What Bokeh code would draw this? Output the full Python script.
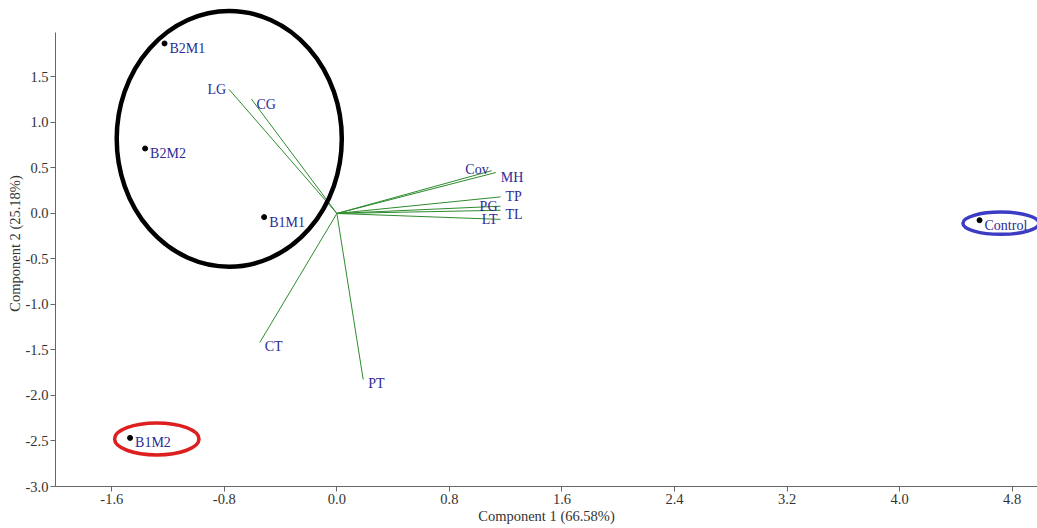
from bokeh.plotting import figure
from bokeh.models import ColumnDataSource, FixedTicker, Range1d
from bokeh.core.properties import value
from bokeh.embed import file_html
from bokeh.resources import INLINE

# ---- data ----
samples = ["B2M1", "B2M2", "B1M1", "B1M2", "Control"]
pc1 = [-1.225, -1.363, -0.517, -1.47, 4.568]
pc2 = [1.868, 0.714, -0.04, -2.466, -0.074]

variables = ["LG", "CG", "Cov", "MH", "TP", "PG", "TL", "LT", "CT", "PT"]
load1 = [-0.766, -0.607, 1.10, 1.13, 1.163, 1.163, 1.163, 1.163, -0.548, 0.187]
load2 = [1.363, 1.256, 0.47, 0.45, 0.182, 0.08, 0.035, -0.065, -1.418, -1.824]

x_ticks = [-1.6, -0.8, 0.0, 0.8, 1.6, 2.4, 3.2, 4.0, 4.8]
x_tick_labels = ["-1.6", "-0.8", "0.0", "0.8", "1.6", "2.4", "3.2", "4.0", "4.8"]
y_ticks = [-3.0, -2.5, -2.0, -1.5, -1.0, -0.5, 0.0, 0.5, 1.0, 1.5]
y_tick_labels = ["-3.0", "-2.5", "-2.0", "-1.5", "-1.0", "-0.5", "0.0", "0.5", "1.0", "1.5"]

# highlight ellipses (centre x, centre y, width, height)
ell_x = [-0.765, -1.28, 4.72]
ell_y = [0.82, -2.478, -0.107]
ell_w = [1.60, 0.60, 0.54]
ell_h = [2.81, 0.35, 0.245]

# ---- styles ----
FONT = "Liberation Serif"
TXT = "#2b2b96"
ell_colors = ["#000000", "#dd1f1f", "#3b3bc4"]
ell_widths = [4.5, 3.5, 3.5]
# label anchoring for variables: "r" = label to the right, "l" = to the left
var_side = ["l", "r", "l", "r", "r", "l", "r", "l", "r", "r"]
var_dy = [0, 5, -1, 5, 0, 0, 4, 0, 4, 4]

p = figure(width=1037, height=528, output_backend="svg", toolbar_location=None,
           x_range=Range1d(-2.0, 4.98), y_range=Range1d(-3.0, 2.34),
           min_border_left=55, min_border_right=0, min_border_top=0,
           min_border_bottom=42)
p.outline_line_color = None
p.xgrid.visible = False
p.ygrid.visible = False
p.background_fill_color = "white"

for ax in (p.xaxis[0], p.yaxis[0]):
    ax.axis_line_color = "#666666"
    ax.major_tick_line_color = "#666666"
    ax.minor_tick_line_color = None
    ax.major_tick_in = 0
    ax.major_tick_out = 5
    ax.major_label_text_font = FONT
    ax.major_label_text_font_size = "14.5px"
    ax.major_label_text_color = "#333333"
    ax.axis_label_text_font = FONT
    ax.axis_label_text_font_size = "14.5px"
    ax.axis_label_text_font_style = "normal"
    ax.axis_label_text_color = "#333333"

p.xaxis.ticker = FixedTicker(ticks=x_ticks)
p.yaxis.ticker = FixedTicker(ticks=y_ticks)
p.xaxis.major_label_overrides = {t: l for t, l in zip(x_ticks, x_tick_labels)}
p.yaxis.major_label_overrides = {t: l for t, l in zip(y_ticks, y_tick_labels)}
p.xaxis.axis_label = "Component 1 (66.58%)"
p.yaxis.axis_label = "Component 2 (25.18%)"
p.yaxis.bounds = (-3.0, 1.99)
p.xaxis.major_label_standoff = 2
p.xaxis.axis_label_standoff = 1
p.yaxis.major_label_standoff = 2
p.yaxis.axis_label_standoff = 0

# loading vectors
p.segment(x0=[0.0] * len(variables), y0=[0.0] * len(variables), x1=load1, y1=load2,
          line_color="#2e8b2e", line_width=1)

vsrc = ColumnDataSource(dict(
    x=load1, y=load2, t=variables,
    align=["right" if s == "l" else "left" for s in var_side],
    dx=[-3 if s == "l" else 5 for s in var_side],
    dy=var_dy,
))
p.text(x="x", y="y", text="t", source=vsrc, x_offset="dx", y_offset="dy",
       text_align="align", text_baseline="middle",
       text_font=value(FONT), text_font_size="14px", text_color=TXT)

# sample scores
p.scatter(pc1, pc2, size=5, color="black")
ssrc = ColumnDataSource(dict(x=pc1, y=pc2, t=samples))
p.text(x="x", y="y", text="t", source=ssrc, x_offset=5, y_offset=5,
       text_align="left", text_baseline="middle",
       text_font=value(FONT), text_font_size="14px", text_color=TXT)

# highlight ellipses
esrc = ColumnDataSource(dict(x=ell_x, y=ell_y, w=ell_w, h=ell_h,
                             c=ell_colors, lw=ell_widths))
p.ellipse(x="x", y="y", width="w", height="h", source=esrc,
          fill_alpha=0, line_color="c", line_width="lw")

open("out.html", "w").write(file_html(p, INLINE))
